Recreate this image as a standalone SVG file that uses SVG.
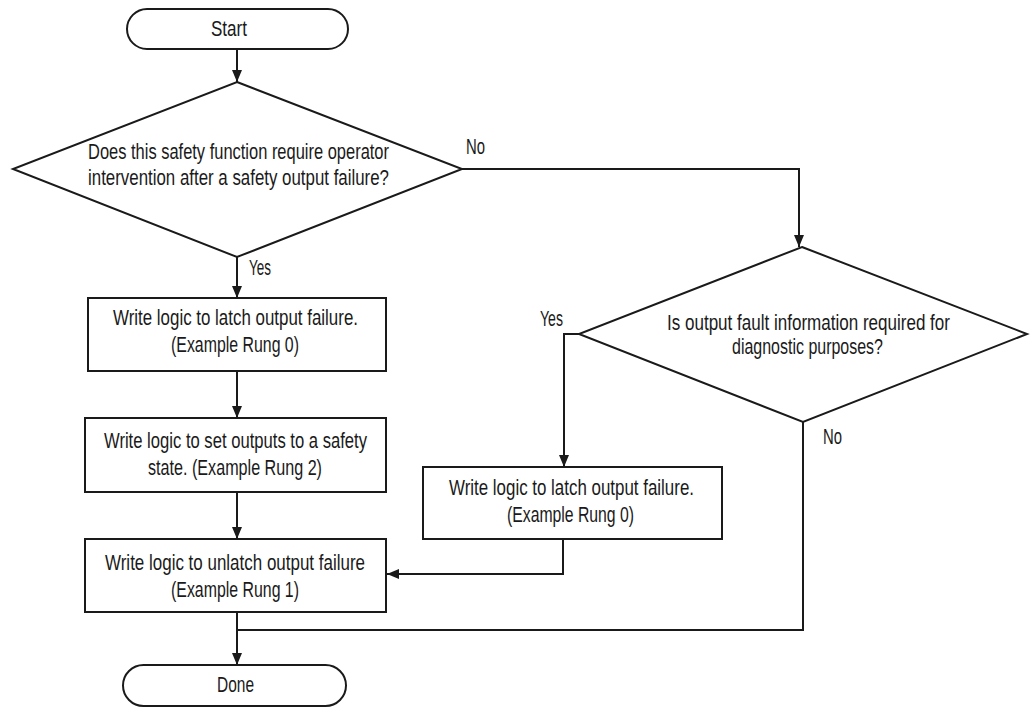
<svg xmlns="http://www.w3.org/2000/svg" width="1031" height="707" viewBox="0 0 1031 707">
<style>
  .shape { fill: #ffffff; stroke: #1a1a1a; stroke-width: 2; }
  .conn { fill: none; stroke: #1a1a1a; stroke-width: 2; }
  .t { font-family: "Liberation Sans", Arial, sans-serif; font-size: 21.5px; fill: #1a1a1a; text-anchor: middle; }
  .lbl { font-family: "Liberation Sans", Arial, sans-serif; font-size: 21.5px; fill: #1a1a1a; }
</style>
<defs>
  <marker id="arr" markerUnits="userSpaceOnUse" markerWidth="13" markerHeight="10" refX="12" refY="5" orient="auto">
    <path d="M0,0 L12,5 L0,10 z" fill="#1a1a1a"/>
  </marker>
</defs>
<rect width="1031" height="707" fill="#ffffff"/>

<g id="connectors">
  <path class="conn" d="M237,50 L237,82" marker-end="url(#arr)"/>
  <path class="conn" d="M237,257 L237,298" marker-end="url(#arr)"/>
  <path class="conn" d="M237,371 L237,418" marker-end="url(#arr)"/>
  <path class="conn" d="M237,492 L237,539" marker-end="url(#arr)"/>
  <path class="conn" d="M237,612 L237,665" marker-end="url(#arr)"/>
  <path class="conn" d="M462,169 L799,169 L799,247" marker-end="url(#arr)"/>
  <path class="conn" d="M579,334 L564,334 L564,467" marker-end="url(#arr)"/>
  <path class="conn" d="M563,539 L563,574 L387,574" marker-end="url(#arr)"/>
  <path class="conn" d="M803,422 L803,630 L237,630"/>
  <text class="lbl" x="466" y="154" textLength="19" lengthAdjust="spacingAndGlyphs">No</text>
  <text class="lbl" x="249" y="275" textLength="22" lengthAdjust="spacingAndGlyphs">Yes</text>
  <text class="lbl" x="540" y="326" textLength="23" lengthAdjust="spacingAndGlyphs">Yes</text>
  <text class="lbl" x="823" y="444" textLength="19" lengthAdjust="spacingAndGlyphs">No</text>
</g>

<g id="start">
  <rect class="shape" x="127" y="9" width="221" height="40" rx="20" ry="20"/>
  <text class="t" x="229" y="36" textLength="36" lengthAdjust="spacingAndGlyphs">Start</text>
</g>

<g id="decision1">
  <polygon class="shape" points="237,82 462,169 237,257 13,169"/>
  <text class="t" x="238.5" y="159" textLength="301" lengthAdjust="spacingAndGlyphs">Does this safety function require operator</text>
  <text class="t" x="238.5" y="185" textLength="301" lengthAdjust="spacingAndGlyphs">intervention after a safety output failure?</text>
</g>

<g id="latch1">
  <rect class="shape" x="88" y="298" width="298" height="73"/>
  <text class="t" x="235.5" y="325" textLength="245" lengthAdjust="spacingAndGlyphs">Write logic to latch output failure.</text>
  <text class="t" x="235" y="352" textLength="128" lengthAdjust="spacingAndGlyphs">(Example Rung 0)</text>
</g>

<g id="setoutputs">
  <rect class="shape" x="85" y="418" width="301" height="74"/>
  <text class="t" x="235.5" y="448" textLength="263" lengthAdjust="spacingAndGlyphs">Write logic to set outputs to a safety</text>
  <text class="t" x="235" y="475" textLength="174" lengthAdjust="spacingAndGlyphs">state. (Example Rung 2)</text>
</g>

<g id="unlatch">
  <rect class="shape" x="85" y="539" width="301" height="73"/>
  <text class="t" x="235" y="570" textLength="260" lengthAdjust="spacingAndGlyphs">Write logic to unlatch output failure</text>
  <text class="t" x="235" y="597" textLength="128" lengthAdjust="spacingAndGlyphs">(Example Rung 1)</text>
</g>

<g id="done">
  <rect class="shape" x="123" y="665" width="223" height="41" rx="20.5" ry="20.5"/>
  <text class="t" x="235.5" y="692" textLength="37" lengthAdjust="spacingAndGlyphs">Done</text>
</g>

<g id="decision2">
  <polygon class="shape" points="802,247 1027,334 803,422 579,334"/>
  <text class="t" x="808.5" y="330" textLength="283" lengthAdjust="spacingAndGlyphs">Is output fault information required for</text>
  <text class="t" x="807.5" y="354" textLength="151" lengthAdjust="spacingAndGlyphs">diagnostic purposes?</text>
</g>

<g id="latch2">
  <rect class="shape" x="423" y="467" width="299" height="72"/>
  <text class="t" x="571.5" y="495" textLength="245" lengthAdjust="spacingAndGlyphs">Write logic to latch output failure.</text>
  <text class="t" x="570.5" y="522" textLength="127" lengthAdjust="spacingAndGlyphs">(Example Rung 0)</text>
</g>
</svg>
